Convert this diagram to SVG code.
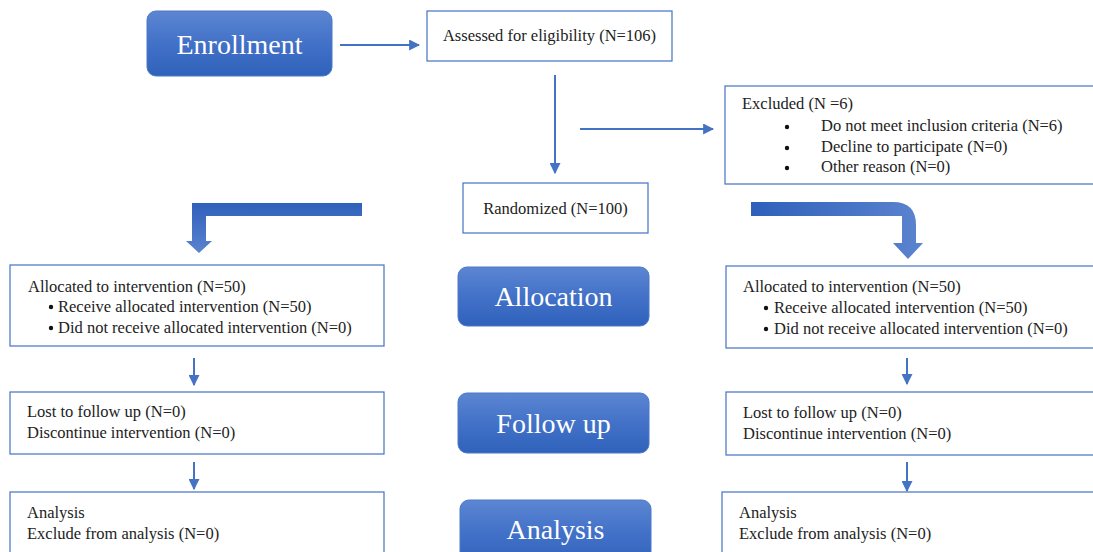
<svg xmlns="http://www.w3.org/2000/svg" width="1093" height="552" viewBox="0 0 1093 552">
<defs>
<linearGradient id="btn" x1="0" y1="0" x2="0" y2="1">
<stop offset="0" stop-color="#5c86d2"/>
<stop offset="0.5" stop-color="#4271c8"/>
<stop offset="1" stop-color="#3062bb"/>
</linearGradient>
<linearGradient id="bendL" x1="0" y1="203" x2="0" y2="253" gradientUnits="userSpaceOnUse">
<stop offset="0" stop-color="#2f60ba"/>
<stop offset="1" stop-color="#5b83cf"/>
</linearGradient>
<linearGradient id="bendR" x1="751" y1="0" x2="923" y2="0" gradientUnits="userSpaceOnUse">
<stop offset="0" stop-color="#2f60ba"/>
<stop offset="1" stop-color="#5b83cf"/>
</linearGradient>
<marker id="ah" viewBox="0 0 10 10" refX="9" refY="5" markerWidth="11" markerHeight="11" markerUnits="userSpaceOnUse" orient="auto">
<path d="M0,0 L10,5 L0,10 Z" fill="#4472c4"/>
</marker>
</defs>
<style>
.box{fill:#fff;stroke:#4472c4;stroke-width:1.2}
.btn{fill:url(#btn);stroke:#4a78c8;stroke-width:1}
.t{font-family:"Liberation Serif","DejaVu Serif",serif;font-size:16.5px;fill:#222}
.bt{font-family:"Liberation Serif","DejaVu Serif",serif;font-size:28px;fill:#fff;text-anchor:middle}
.c{stroke:#4472c4;stroke-width:2;fill:none;marker-end:url(#ah)}
</style>
<rect width="1093" height="552" fill="#fff"/>

<g id="connectors">
<line class="c" x1="340" y1="45" x2="419" y2="45"/>
<line class="c" x1="555" y1="75" x2="555" y2="173"/>
<line class="c" x1="580" y1="129" x2="713" y2="129"/>
<line class="c" x1="194" y1="358" x2="194" y2="385"/>
<line class="c" x1="907" y1="358" x2="907" y2="384"/>
<line class="c" x1="194" y1="462" x2="194" y2="489"/>
<line class="c" x1="907" y1="462" x2="907" y2="491"/>
<path d="M362,203 L192,203 L192,241 L186,241 L199,253 L212,241 L206,241 L206,216 L362,216 Z" fill="url(#bendL)"/>
<path d="M751,202 L893,202 Q916,202 916,225 L916,243 L923,243 L908,259 L893,243 L902,243 L902,216 L751,216 Z" fill="url(#bendR)"/>
</g>

<g id="enrollment">
<rect class="btn" x="147" y="11" width="185" height="65" rx="9"/>
<text class="bt" x="239.5" y="54">Enrollment</text>
</g>

<g id="assessed">
<rect class="box" x="427" y="11" width="245" height="50"/>
<text class="t" x="549.5" y="41" text-anchor="middle">Assessed for eligibility (N=106)</text>
</g>

<g id="excluded">
<rect class="box" x="725" y="86" width="370" height="98"/>
<text class="t" x="742" y="109">Excluded (N =6)</text>
<circle cx="787" cy="127" r="2.2" fill="#111"/>
<text class="t" x="821" y="131">Do not meet inclusion criteria (N=6)</text>
<circle cx="787" cy="148" r="2.2" fill="#111"/>
<text class="t" x="821" y="152">Decline to participate (N=0)</text>
<circle cx="787" cy="168" r="2.2" fill="#111"/>
<text class="t" x="821" y="172">Other reason (N=0)</text>
</g>

<g id="randomized">
<rect class="box" x="463" y="183" width="185" height="50"/>
<text class="t" x="555.5" y="214" text-anchor="middle">Randomized (N=100)</text>
</g>

<g id="allocation">
<rect class="btn" x="458" y="267" width="191" height="59" rx="9"/>
<text class="bt" x="553.5" y="306">Allocation</text>
</g>

<g id="alloc-left">
<rect class="box" x="10" y="265" width="374" height="81"/>
<text class="t" x="28" y="292">Allocated to intervention (N=50)</text>
<circle cx="51" cy="307" r="2.2" fill="#111"/>
<text class="t" x="58" y="312">Receive allocated intervention (N=50)</text>
<circle cx="51" cy="328" r="2.2" fill="#111"/>
<text class="t" x="58" y="333">Did not receive allocated intervention (N=0)</text>
</g>

<g id="alloc-right">
<rect class="box" x="726" y="266" width="369" height="82"/>
<text class="t" x="743" y="292">Allocated to intervention (N=50)</text>
<circle cx="766" cy="308" r="2.2" fill="#111"/>
<text class="t" x="774" y="313">Receive allocated intervention (N=50)</text>
<circle cx="766" cy="329" r="2.2" fill="#111"/>
<text class="t" x="774" y="334">Did not receive allocated intervention (N=0)</text>
</g>

<g id="followup">
<rect class="btn" x="458" y="393" width="191" height="60" rx="9"/>
<text class="bt" x="553.5" y="433">Follow up</text>
</g>

<g id="follow-left">
<rect class="box" x="10" y="392" width="374" height="62"/>
<text class="t" x="27" y="417">Lost to follow up (N=0)</text>
<text class="t" x="27" y="438">Discontinue intervention (N=0)</text>
</g>

<g id="follow-right">
<rect class="box" x="726" y="392" width="369" height="63"/>
<text class="t" x="743" y="418">Lost to follow up (N=0)</text>
<text class="t" x="743" y="439">Discontinue intervention (N=0)</text>
</g>

<g id="analysis">
<rect class="btn" x="460" y="500" width="191" height="65" rx="9"/>
<text class="bt" x="555.5" y="539">Analysis</text>
</g>

<g id="analysis-left">
<rect class="box" x="10" y="492" width="374" height="70"/>
<text class="t" x="27" y="518">Analysis</text>
<text class="t" x="27" y="539">Exclude from analysis (N=0)</text>
</g>

<g id="analysis-right">
<rect class="box" x="722" y="492" width="373" height="70"/>
<text class="t" x="739" y="518">Analysis</text>
<text class="t" x="739" y="539">Exclude from analysis (N=0)</text>
</g>
</svg>
